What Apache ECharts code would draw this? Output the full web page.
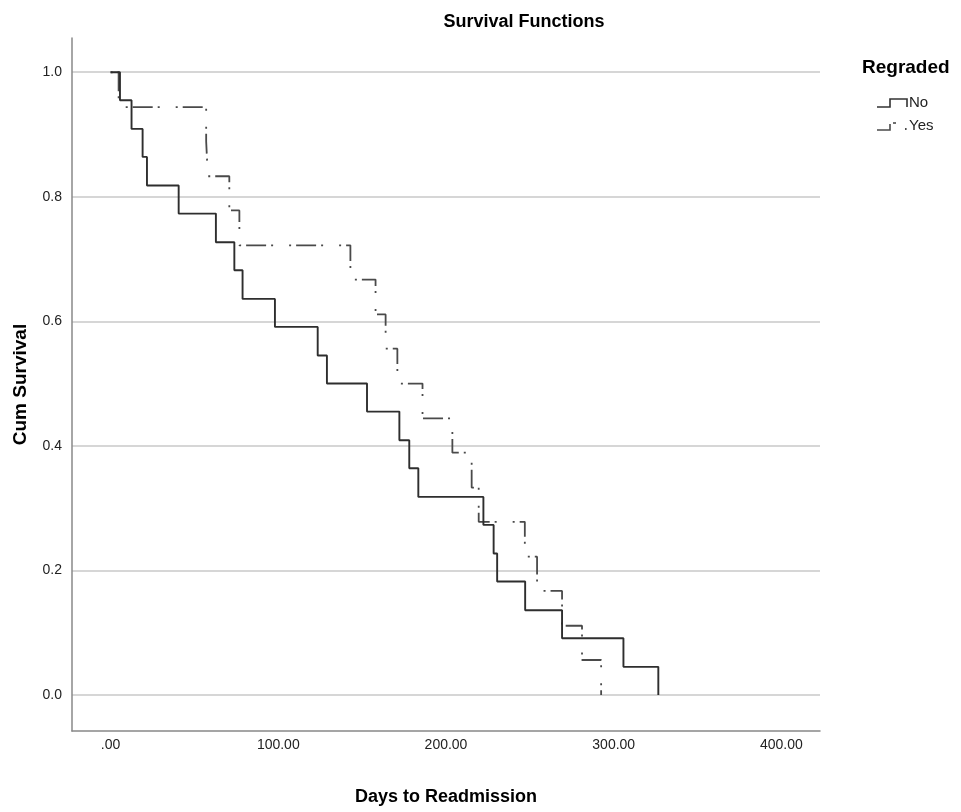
<!DOCTYPE html>
<html><head><meta charset="utf-8">
<script src="https://cdn.jsdelivr.net/npm/echarts@6/dist/echarts.min.js"></script>
<style>html,body{margin:0;padding:0;background:#fff}#c{width:961px;height:812px}</style>
</head><body><div id="c"></div>
<script>
// ---- data ----
const xTicks = [0, 100, 200, 300, 400];
const yTicks = [0, 0.2, 0.4, 0.6, 0.8, 1.0];
const groupNames = ['No', 'Yes'];
const noTimes = [0, 5.6, 12.5, 19.1, 21.7, 40.6, 62.8, 73.8, 78.7, 98, 123.5, 129, 152.9, 172.2, 178.1, 183.5, 222.3, 228.4, 230.5, 247.2, 269.2, 305.8, 326.6];
const noSurv  = [1, 0.955, 0.909, 0.864, 0.818, 0.773, 0.727, 0.682, 0.636, 0.591, 0.545, 0.5, 0.455, 0.409, 0.364, 0.318, 0.273, 0.227, 0.182, 0.136, 0.091, 0.045, 0];
const yesTimes = [0, 4.8, 57, 58, 70.8, 76.8, 143, 158, 164, 171, 186, 203.8, 215.3, 219.5, 247, 254.3, 269.2, 281.1, 292.5];
const yesSurv  = [1, 0.944, 0.889, 0.833, 0.778, 0.722, 0.667, 0.611, 0.556, 0.5, 0.444, 0.389, 0.333, 0.278, 0.222, 0.167, 0.111, 0.056, 0];

const FONT = '"Liberation Sans Narrow", "Arial Narrow", "Liberation Sans", Arial, sans-serif';
const pair = (t, s) => t.map((v, i) => [v, s[i]]);

const chart = echarts.init(document.getElementById('c'), null, {renderer: 'canvas'});
chart.setOption({
  animation: false,
  backgroundColor: '#fff',
  title: {
    text: 'Survival Functions', left: 519, top: 8, textAlign: 'center',
    textStyle: {fontFamily: FONT, fontSize: 18, fontWeight: 'bold', color: '#000'}
  },
  grid: {left: 72, right: 141, top: 38, bottom: 81},
  xAxis: {
    type: 'value', min: -23, max: 423,
    name: 'Days to Readmission', nameLocation: 'middle', nameGap: 57,
    nameTextStyle: {fontFamily: FONT, fontSize: 18, fontWeight: 'bold', color: '#000'},
    axisLine: {show: true, onZero: false, lineStyle: {color: '#888', width: 1.5}},
    axisTick: {show: false, customValues: xTicks},
    axisLabel: {customValues: xTicks, margin: 7, fontFamily: FONT, fontSize: 14, color: '#222',
      formatter: v => v === 0 ? '.00' : v.toFixed(2)},
    splitLine: {show: false}
  },
  yAxis: {
    type: 'value', min: -0.058, max: 1.055,
    name: 'Cum Survival', nameLocation: 'middle', nameGap: 42, nameRotate: 90,
    nameTextStyle: {fontFamily: FONT, fontSize: 19, fontWeight: 'bold', color: '#000'},
    axisLine: {show: true, onZero: false, lineStyle: {color: '#888', width: 1.5}},
    axisTick: {show: false, customValues: yTicks},
    axisLabel: {customValues: yTicks, margin: 10, fontFamily: FONT, fontSize: 14, color: '#222',
      formatter: v => v.toFixed(1)},
    splitLine: {show: true, lineStyle: {color: '#c8c8c8', width: 1.5}}
  },
  series: [
    {name: groupNames[0], type: 'line', step: 'end', data: pair(noTimes, noSurv),
     symbol: 'none', lineStyle: {color: '#2e2e2e', width: 1.9}, z: 3},
    {name: groupNames[1], type: 'line', step: 'end', data: pair(yesTimes, yesSurv),
     symbol: 'none', lineStyle: {color: '#4a4a4a', width: 1.8, type: [2, 5, 20, 5, 2, 16]}, z: 2}
  ],
  graphic: [
    {type: 'text', left: 862, top: 58, style: {text: 'Regraded', font: 'bold 19px ' + FONT, fill: '#000'}},
    {type: 'polyline', shape: {points: [[877, 107], [890, 107], [890, 99], [907, 99], [907, 107]]},
     style: {stroke: '#333', lineWidth: 1.6, fill: null}},
    {type: 'text', left: 909, top: 95, style: {text: groupNames[0], font: '15px ' + FONT, fill: '#222'}},
    {type: 'polyline', shape: {points: [[877, 130], [890, 130], [890, 124]]},
     style: {stroke: '#4a4a4a', lineWidth: 1.6, fill: null}},
    {type: 'polyline', shape: {points: [[893, 123], [896, 123]]},
     style: {stroke: '#4a4a4a', lineWidth: 1.6, fill: null}},
    {type: 'rect', shape: {x: 905, y: 128, width: 1.6, height: 2}, style: {fill: '#4a4a4a'}},
    {type: 'text', left: 909, top: 118, style: {text: groupNames[1], font: '15px ' + FONT, fill: '#222'}}
  ]
});
</script></body></html>
